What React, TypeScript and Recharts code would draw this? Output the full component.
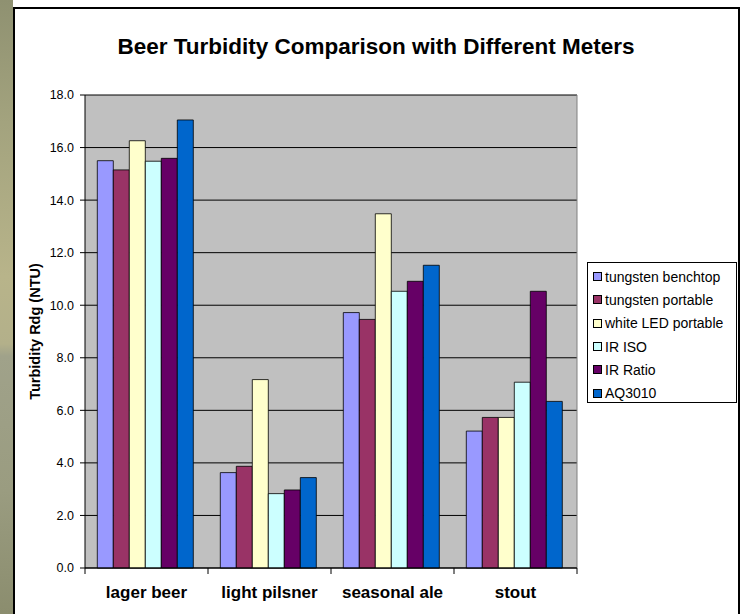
import { BarChart, Bar, XAxis, YAxis, CartesianGrid, Legend } from "recharts";

const categories = ["lager beer", "light pilsner", "seasonal ale", "stout"];

const tungstenBenchtop = [15.5, 3.63, 9.72, 5.21];
const tungstenPortable = [15.15, 3.87, 9.46, 5.73];
const whiteLedPortable = [16.26, 7.17, 13.48, 5.73];
const irIso = [15.48, 2.83, 10.53, 7.07];
const irRatio = [15.59, 2.97, 10.91, 10.53];
const aq3010 = [17.05, 3.44, 11.52, 6.34];

const yTicks = [0, 2, 4, 6, 8, 10, 12, 14, 16, 18];

const SERIES = [
  { key: "tungsten benchtop", values: tungstenBenchtop, color: "#9999ff" },
  { key: "tungsten portable", values: tungstenPortable, color: "#993366" },
  { key: "white LED portable", values: whiteLedPortable, color: "#ffffcc" },
  { key: "IR ISO", values: irIso, color: "#ccffff" },
  { key: "IR Ratio", values: irRatio, color: "#660066" },
  { key: "AQ3010", values: aq3010, color: "#0066cc" },
];

const data = categories.map((name, i) => {
  const row: Record<string, string | number> = { name };
  SERIES.forEach((s) => {
    row[s.key] = s.values[i];
  });
  return row;
});

const FONT = "'Liberation Sans', Arial, sans-serif";
const W = 746;
const H = 614;
const MARGIN = { top: 95, right: 169, bottom: 0, left: 0 };
const Y_AXIS_W = 85;
const X_AXIS_H = 46;
const HALF_BAND = (W - MARGIN.right - Y_AXIS_W) / categories.length / 2;

function CategoryTick(props: any) {
  const { x, y, payload, index } = props;
  const last = index === categories.length - 1;
  return (
    <g>
      <line x1={x - HALF_BAND} y1={y} x2={x - HALF_BAND} y2={y + 6} stroke="#000" />
      {last && <line x1={x + HALF_BAND} y1={y} x2={x + HALF_BAND} y2={y + 6} stroke="#000" />}
      <text
        x={x}
        y={y + 30}
        textAnchor="middle"
        fontFamily={FONT}
        fontWeight="bold"
        fontSize={17}
        fill="#000"
      >
        {payload.value}
      </text>
    </g>
  );
}

function LegendBox() {
  return (
    <div
      style={{
        border: "1px solid #000",
        background: "#fff",
        boxSizing: "border-box",
        width: 150,
        height: 141,
        padding: "2px 0 0 5px",
        fontFamily: FONT,
        fontSize: 14,
        color: "#000",
        textAlign: "left",
      }}
    >
      {SERIES.map((s) => (
        <div key={s.key} style={{ display: "flex", alignItems: "center", height: 23.3, whiteSpace: "nowrap" }}>
          <span
            style={{
              display: "inline-block",
              width: 7,
              height: 7,
              background: s.color,
              border: "1px solid #000",
              marginRight: 3,
            }}
          />
          <span>{s.key}</span>
        </div>
      ))}
    </div>
  );
}

export default function App() {
  return (
    <div style={{ position: "absolute", left: 0, top: 0, width: W, height: H, overflow: "hidden", background: "#fff" }}>
      <div
        style={{
          position: "absolute",
          left: 0,
          top: 0,
          width: 13,
          height: H,
          background:
            "linear-gradient(180deg, #8f9171 0%, #a3a37e 20%, #b8b48a 45%, #b3b08a 56%, #a0a28a 58%, #9a9c80 80%, #8b8d6e 100%)",
        }}
      />
      <div
        style={{
          position: "absolute",
          left: 13,
          top: 7,
          width: 727,
          height: H + 10,
          border: "2px solid #000",
          boxSizing: "border-box",
          background: "#fff",
        }}
      />
      <div
        style={{
          position: "absolute",
          left: 0,
          top: 34,
          width: 752,
          textAlign: "center",
          fontFamily: FONT,
          fontWeight: "bold",
          fontSize: 22.5,
          lineHeight: "26px",
          color: "#000",
        }}
      >
        Beer Turbidity Comparison with Different Meters
      </div>
      <div style={{ position: "absolute", left: 0, top: 0 }}>
        <BarChart
          width={W}
          height={H}
          data={data}
          margin={MARGIN}
          barCategoryGap="10%"
          barGap={0}
        >
          <CartesianGrid vertical={false} stroke="#000" fill="#c0c0c0" fillOpacity={1} />
          <CartesianGrid horizontal={false} verticalPoints={[W - MARGIN.right]} stroke="#808080" />
          <XAxis
            dataKey="name"
            height={X_AXIS_H}
            axisLine={{ stroke: "#000" }}
            tickLine={false}
            tickSize={0}
            tickMargin={0}
            interval={0}
            tick={<CategoryTick />}
          />
          <YAxis
            width={Y_AXIS_W}
            domain={[0, 18]}
            ticks={yTicks}
            interval={0}
            axisLine={{ stroke: "#000" }}
            tickLine={{ stroke: "#000" }}
            tickSize={5}
            tickMargin={6}
            tickFormatter={(v: number) => v.toFixed(1)}
            tick={{ fontSize: 12.5, fill: "#000", fontFamily: FONT }}
            label={{
              value: "Turbidity Rdg (NTU)",
              angle: -90,
              position: "insideLeft",
              offset: 35,
              style: { textAnchor: "middle", fontSize: 14.5, fontWeight: "bold", fontFamily: FONT, fill: "#000" },
            }}
          />
          {SERIES.map((s) => (
            <Bar
              key={s.key}
              dataKey={s.key}
              fill={s.color}
              stroke="#000"
              strokeWidth={0.8}
              isAnimationActive={false}
            />
          ))}
          <Legend
            layout="vertical"
            align="center"
            verticalAlign="middle"
            content={() => <LegendBox />}
            wrapperStyle={{ position: "absolute", left: 587, top: 262, width: 150, height: 141, margin: 0 }}
          />
        </BarChart>
      </div>
    </div>
  );
}
